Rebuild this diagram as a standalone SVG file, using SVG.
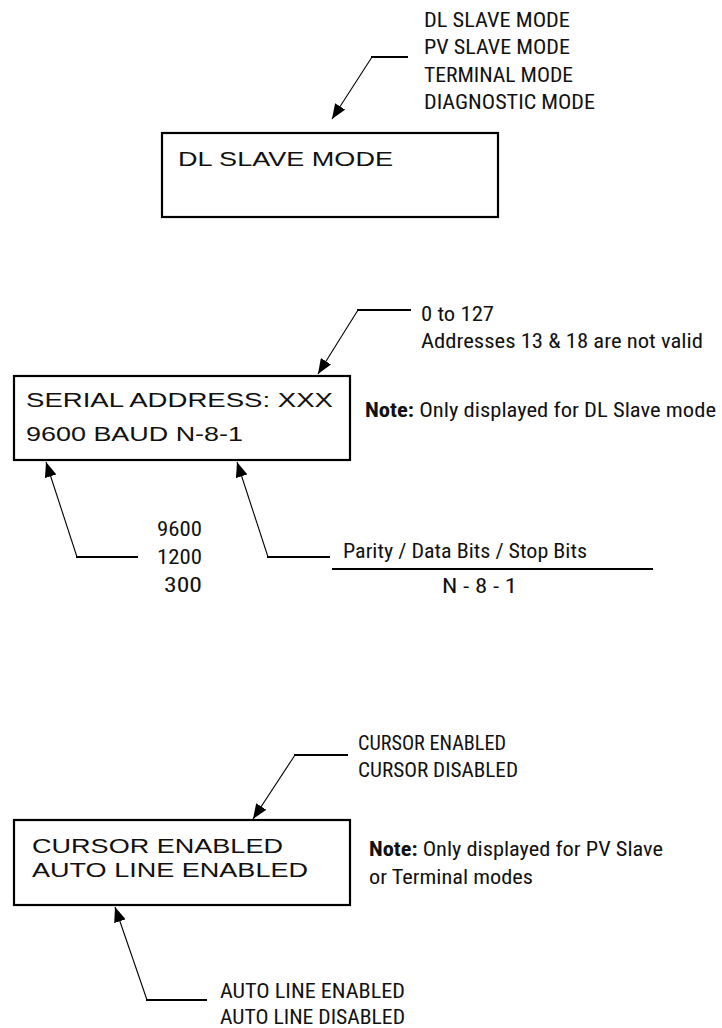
<svg xmlns="http://www.w3.org/2000/svg" width="722" height="1028" viewBox="0 0 722 1028">
<style>
.box{fill:#fff;stroke:#000;stroke-width:2.2}
.disp{font-family:"Liberation Sans",Arial,sans-serif;font-size:20px;fill:#111}
.lbl{font-family:"Liberation Sans Narrow","Roboto Condensed","DejaVu Sans Condensed","Liberation Sans",sans-serif;font-stretch:condensed;font-size:21px;fill:#111}
.b{font-weight:bold}
.h{fill:none;stroke:#000;stroke-width:2}
.d{fill:none;stroke:#000;stroke-width:1.1}
</style>
<defs>
<marker id="ah" markerWidth="15" markerHeight="12" refX="15" refY="6" orient="auto" markerUnits="userSpaceOnUse">
<path d="M0,0 L15,6 L0,12 z" fill="#000"/>
</marker>
</defs>
<rect width="722" height="1028" fill="#fff"/>
<g id="connectors">
<line class="h" x1="408" y1="57" x2="371" y2="57"/>
<line class="d" x1="372" y1="57" x2="332" y2="119" marker-end="url(#ah)"/>
<line class="h" x1="411" y1="310" x2="357" y2="310"/>
<line class="d" x1="358" y1="310" x2="318" y2="374" marker-end="url(#ah)"/>
<line class="h" x1="138" y1="557" x2="76" y2="557"/>
<line class="d" x1="77" y1="557" x2="46" y2="462" marker-end="url(#ah)"/>
<line class="h" x1="330" y1="557" x2="267" y2="557"/>
<line class="d" x1="268" y1="557" x2="237" y2="462" marker-end="url(#ah)"/>
<line class="h" x1="332" y1="569" x2="653" y2="569"/>
<line class="h" x1="348" y1="755" x2="294" y2="755"/>
<line class="d" x1="295" y1="755" x2="253" y2="819" marker-end="url(#ah)"/>
<line class="h" x1="207" y1="1000" x2="146" y2="1000"/>
<line class="d" x1="147" y1="1000" x2="115" y2="907" marker-end="url(#ah)"/>
</g>
<g id="mode-display">
<rect class="box" x="162" y="133" width="336" height="84"/>
<text class="disp" x="178" y="166" textLength="215" lengthAdjust="spacingAndGlyphs">DL SLAVE MODE</text>
</g>
<g id="mode-options">
<text class="lbl" x="424" y="27" textLength="146" lengthAdjust="spacingAndGlyphs">DL SLAVE MODE</text>
<text class="lbl" x="424" y="54" textLength="146" lengthAdjust="spacingAndGlyphs">PV SLAVE MODE</text>
<text class="lbl" x="424" y="82" textLength="149" lengthAdjust="spacingAndGlyphs">TERMINAL MODE</text>
<text class="lbl" x="424" y="109" textLength="171" lengthAdjust="spacingAndGlyphs">DIAGNOSTIC MODE</text>
</g>
<g id="serial-display">
<rect class="box" x="14" y="376" width="336" height="84"/>
<text class="disp" x="26" y="407" textLength="307" lengthAdjust="spacingAndGlyphs">SERIAL ADDRESS: XXX</text>
<text class="disp" x="26" y="441" textLength="217" lengthAdjust="spacingAndGlyphs">9600 BAUD N-8-1</text>
</g>
<g id="address-range">
<text class="lbl" x="421" y="321" textLength="73" lengthAdjust="spacingAndGlyphs">0 to 127</text>
<text class="lbl" x="421" y="348" textLength="282" lengthAdjust="spacingAndGlyphs">Addresses 13 &amp; 18 are not valid</text>
</g>
<g id="note-dl">
<text class="lbl" x="365" y="417" textLength="351" lengthAdjust="spacingAndGlyphs"><tspan class="b">Note:</tspan> Only displayed for DL Slave mode</text>
</g>
<g id="baud-options">
<text class="lbl" x="157" y="536" textLength="45" lengthAdjust="spacingAndGlyphs">9600</text>
<text class="lbl" x="157" y="564" textLength="45" lengthAdjust="spacingAndGlyphs">1200</text>
<text class="lbl" x="164" y="592" textLength="38" lengthAdjust="spacingAndGlyphs">300</text>
</g>
<g id="format-options">
<text class="lbl" x="343" y="558" textLength="244" lengthAdjust="spacingAndGlyphs">Parity / Data Bits / Stop Bits</text>
<text class="lbl" x="442" y="593" textLength="75" lengthAdjust="spacingAndGlyphs">N - 8 - 1</text>
</g>
<g id="cursor-display">
<rect class="box" x="14" y="820" width="336" height="85"/>
<text class="disp" x="32" y="853" textLength="251" lengthAdjust="spacingAndGlyphs">CURSOR ENABLED</text>
<text class="disp" x="32" y="877" textLength="276" lengthAdjust="spacingAndGlyphs">AUTO LINE ENABLED</text>
</g>
<g id="cursor-options">
<text class="lbl" x="358" y="750" textLength="148" lengthAdjust="spacingAndGlyphs">CURSOR ENABLED</text>
<text class="lbl" x="358" y="777" textLength="160" lengthAdjust="spacingAndGlyphs">CURSOR DISABLED</text>
</g>
<g id="note-pv">
<text class="lbl" x="369" y="856" textLength="294" lengthAdjust="spacingAndGlyphs"><tspan class="b">Note:</tspan> Only displayed for PV Slave</text>
<text class="lbl" x="369" y="884" textLength="164" lengthAdjust="spacingAndGlyphs">or Terminal modes</text>
</g>
<g id="autoline-options">
<text class="lbl" x="220" y="998" textLength="185" lengthAdjust="spacingAndGlyphs">AUTO LINE ENABLED</text>
<text class="lbl" x="220" y="1024" textLength="185" lengthAdjust="spacingAndGlyphs">AUTO LINE DISABLED</text>
</g>
</svg>
